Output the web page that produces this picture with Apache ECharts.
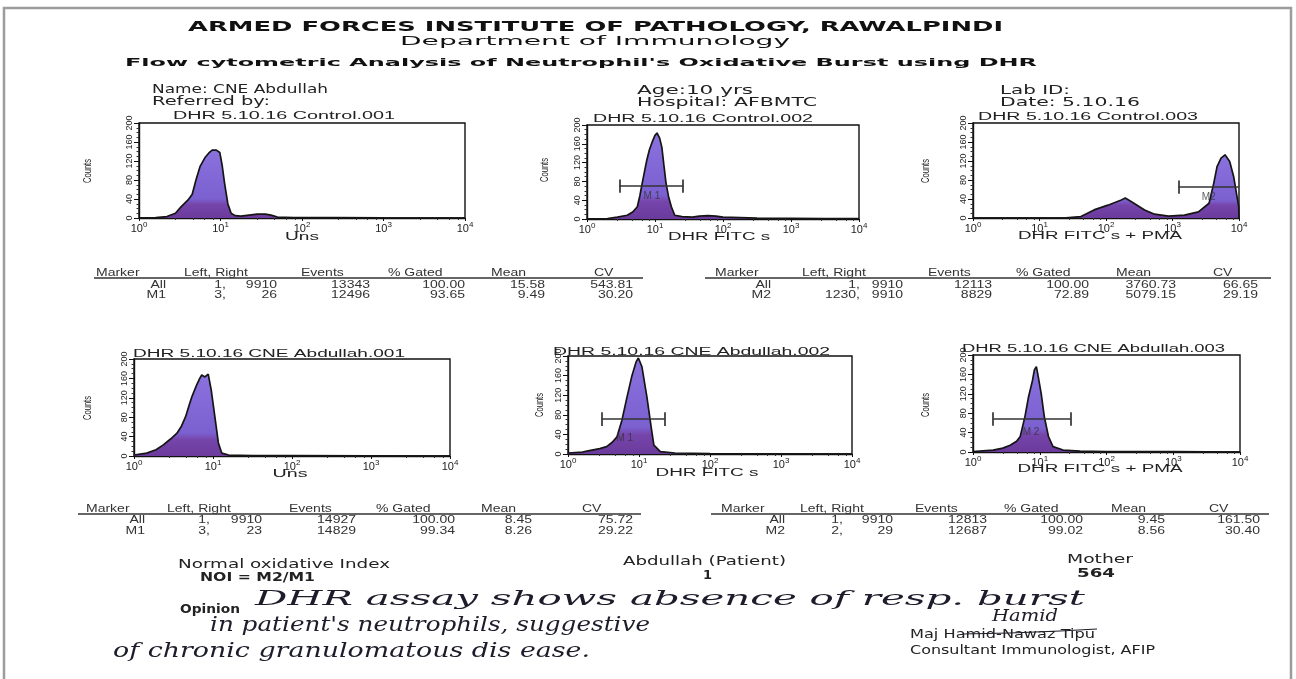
<!DOCTYPE html>
<html>
<head>
<meta charset="utf-8">
<script src="https://cdn.jsdelivr.net/npm/echarts@6/dist/echarts.min.js"></script>
<style>
html,body{margin:0;padding:0;background:#fff;}
#main{width:1296px;height:679px;}
</style>
</head>
<body>
<div id="main"></div>
<script>
// ---- histogram data (channel value, counts) ----
var ctl1X = [1, 1.6, 2.2, 2.8, 3.3, 4, 4.5, 5, 5.6, 6.5, 7.2, 7.9, 8.9, 9.8, 10.5, 11.2, 12.3, 13.5, 15.1, 17.8, 22.4, 28.2, 35.5, 41.7, 50, 79, 251, 1000, 10000];
var ctl1Y = [0.5, 1, 3, 10, 24, 38, 50, 80, 108, 128, 137, 143, 143, 138, 110, 74, 30, 10, 5, 4, 6, 8, 8, 6, 2, 1, 1, 0.3, 0];

var ctl2X = [1, 2, 2.8, 3.9, 4.7, 5.5, 6, 6.5, 7.1, 7.6, 8.3, 9.1, 10, 10.7, 11.7, 12.6, 13.5, 14.5, 15.8, 17.4, 19.5, 25, 35.5, 44.7, 60, 79, 100, 316, 1000, 3162, 10000];
var ctl2Y = [0.5, 1, 4, 8, 15, 26, 50, 77, 105, 126, 148, 164, 178, 183, 172, 153, 115, 77, 48, 26, 8, 5, 4, 6, 7, 6, 4, 2, 1.5, 1, 1];

var ctl3X = [1, 10, 25, 42, 66, 107, 170, 195, 263, 380, 537, 871, 1514, 2455, 3548, 4169, 4677, 5370, 6166, 7244, 8318, 9333, 9910, 10000];
var ctl3Y = [0, 0, 0.5, 3, 17, 27, 38, 42, 31, 17, 8, 4, 6, 13, 31, 73, 108, 126, 133, 119, 87, 45, 24, 0];

var pt1X = [1, 1.45, 1.9, 2.35, 2.9, 3.5, 4, 4.5, 5, 5.4, 6.2, 6.8, 7.2, 7.9, 8.7, 9.5, 10.7, 11.7, 12.9, 15.8, 32, 100, 1000, 10000];
var pt1Y = [2, 6, 13, 23, 35, 47, 62, 81, 105, 122, 146, 160, 167, 163, 169, 136, 74, 27, 6, 2, 1, 1, 0.5, 0];

var pt2X = [1, 1.6, 2, 2.8, 3.5, 4.2, 4.9, 5.75, 6.8, 7.9, 9.1, 9.8, 11, 12.9, 14.8, 16.2, 20, 32, 100, 1000, 10000];
var pt2Y = [2, 4, 7, 11, 15, 24, 35, 69, 117, 158, 188, 196, 178, 117, 56, 18, 5, 2, 1, 0.5, 0];

var pt3X = [1, 2, 2.8, 3.6, 4.5, 5.1, 6, 6.8, 7.8, 8.3, 8.9, 9.5, 10.5, 11.7, 13.5, 15.8, 22.4, 40, 100, 1000, 10000];
var pt3Y = [1, 4, 8, 14, 22, 32, 73, 114, 148, 169, 176, 155, 121, 73, 32, 11, 4, 2, 1, 1, 0];

// marker gates (left, right channel)
var ctlM1 = [3, 26];
var ctlM2 = [1230, 9910];
var ptM1 = [3, 23];
var ptM2 = [2, 29];

var histTitles = ['DHR 5.10.16 Control.001', 'DHR 5.10.16 Control.002', 'DHR 5.10.16 Control.003',
                  'DHR 5.10.16 CNE Abdullah.001', 'DHR 5.10.16 CNE Abdullah.002', 'DHR 5.10.16 CNE Abdullah.003'];
var histXNames = ['Uns', 'DHR FITC s', 'DHR FITC s + PMA', 'Uns', 'DHR FITC s', 'DHR FITC s + PMA'];
var yTicks = [0, 40, 80, 120, 160, 200];

// ---- statistics tables ----
var tableHead = ['Marker', 'Left, Right', 'Events', '% Gated', 'Mean', 'CV'];
var ctlTableA = [['All', '1,', '9910', '13343', '100.00', '15.58', '543.81'],
                 ['M1', '3,', '26', '12496', '93.65', '9.49', '30.20']];
var ctlTableB = [['All', '1,', '9910', '12113', '100.00', '3760.73', '66.65'],
                 ['M2', '1230,', '9910', '8829', '72.89', '5079.15', '29.19']];
var ptTableA = [['All', '1,', '9910', '14927', '100.00', '8.45', '75.72'],
                ['M1', '3,', '23', '14829', '99.34', '8.26', '29.22']];
var ptTableB = [['All', '1,', '9910', '12813', '100.00', '9.45', '161.50'],
                ['M2', '2,', '29', '12687', '99.02', '8.56', '30.40']];

var SANS = 'Liberation Sans, Arial, sans-serif';
var HEAD = 'DejaVu Sans, Verdana, sans-serif';
var HAND = 'DejaVu Serif, serif';

var chart = echarts.init(document.getElementById('main'));
var mctx = document.createElement('canvas').getContext('2d');

function fontStr(o) {
  return (o.style || 'normal') + ' ' + (o.weight || 'normal') + ' ' + (o.size || 11) + 'px ' + (o.family || SANS);
}
// text element; if o.w given, stretch horizontally to that width
function txt(str, x, y, o) {
  o = o || {};
  var font = fontStr(o);
  var sx = o.sx || 1;
  if (o.w) { mctx.font = font; sx = o.w / mctx.measureText(str).width; }
  var al = o.align || 'left';
  return {
    type: 'text', x: x, y: y, scaleX: sx, rotation: o.rot || 0, silent: true, z: 100,
    style: { text: str, font: font, fill: o.color || '#222',
             textAlign: al, align: al, textVerticalAlign: 'middle', verticalAlign: 'middle' }
  };
}
function pairs(xs, ys) {
  return xs.map(function (x, i) { return [x, ys[i]]; });
}

var grids = [
  { left: 139, top: 123, width: 326, height: 95 },
  { left: 587, top: 125, width: 272, height: 94 },
  { left: 973, top: 123, width: 266, height: 95 },
  { left: 134, top: 359, width: 316, height: 97 },
  { left: 568, top: 356, width: 284, height: 98 },
  { left: 973, top: 355, width: 267, height: 97 }
];
var hists = [pairs(ctl1X, ctl1Y), pairs(ctl2X, ctl2Y), pairs(ctl3X, ctl3Y),
             pairs(pt1X, pt1Y), pairs(pt2X, pt2Y), pairs(pt3X, pt3Y)];

var fill = new echarts.graphic.LinearGradient(0, 0, 0, 1, [
  { offset: 0, color: '#8a72de' }, { offset: 0.72, color: '#7b60d0' },
  { offset: 0.8, color: '#7645ab' }, { offset: 1, color: '#6b3a9c' }
]);

var xAxes = [], yAxes = [], series = [];
grids.forEach(function (g, i) {
  g.show = true; g.borderColor = '#111'; g.borderWidth = 1.4;
  xAxes.push({
    type: 'log', logBase: 10, min: 1, max: 10000, gridIndex: i,
    axisLine: { lineStyle: { color: '#111', width: 1.4 } },
    axisTick: { show: true, length: 3, lineStyle: { color: '#111' } },
    minorTick: { show: true, splitNumber: 5, length: 2, lineStyle: { color: '#333' } },
    splitLine: { show: false },
    axisLabel: {
      margin: 3, fontSize: 11, color: '#222', fontFamily: SANS,
      formatter: function (v) { return '10{s|' + Math.round(Math.log(v) / Math.LN10) + '}'; },
      rich: { s: { fontSize: 8, color: '#222', padding: [0, 0, 7, 0] } }
    }
  });
  yAxes.push({
    type: 'value', min: 0, max: 200, interval: 40, gridIndex: i,
    axisLine: { show: true, lineStyle: { color: '#111', width: 1.4 } },
    axisTick: { show: true, length: 5, lineStyle: { color: '#111' } },
    minorTick: { show: true, splitNumber: 4, length: 2.5, lineStyle: { color: '#333' } },
    splitLine: { show: false },
    axisLabel: { rotate: 90, margin: 5, fontSize: 9, color: '#222', fontFamily: SANS,
                 formatter: function (v) { return yTicks.indexOf(v) >= 0 ? String(v) : ''; } }
  });
  series.push({
    type: 'line', xAxisIndex: i, yAxisIndex: i, data: hists[i], symbol: 'none',
    lineStyle: { color: '#151515', width: 1.7 },
    areaStyle: { color: fill, opacity: 1 }, z: 2, silent: true
  });
});

// marker gate bars
function gate(idx, lr, level, label, labelPos) {
  var cap = 14;
  var d = [{ coords: [[lr[0], level], [lr[1], level]] }, { coords: [[lr[0], level - cap], [lr[0], level + cap]] }];
  if (lr[1] < 9900) d.push({ coords: [[lr[1], level - cap], [lr[1], level + cap]] });
  series.push({
    type: 'lines', coordinateSystem: 'cartesian2d', xAxisIndex: idx, yAxisIndex: idx,
    data: d, lineStyle: { color: '#333', width: 1.7, opacity: 1 }, z: 5, silent: true
  });
  series.push({
    type: 'scatter', xAxisIndex: idx, yAxisIndex: idx, data: [labelPos], symbolSize: 1,
    itemStyle: { color: 'rgba(0,0,0,0)' }, z: 6, silent: true,
    label: { show: true, position: 'inside', formatter: label, fontSize: 10, color: '#333', fontFamily: SANS }
  });
}
gate(1, ctlM1, 70, 'M 1', [9, 48]);
gate(2, ctlM2, 65, 'M2', [3500, 44]);
gate(4, ptM1, 71, 'M 1', [6.3, 33]);
gate(5, ptM2, 68, 'M 2', [7.4, 41]);

var gfx = [];
// page frame
gfx.push({ type: 'rect', shape: { x: 4, y: 8, width: 1287, height: 700 }, silent: true, z: 1,
           style: { fill: 'none', stroke: '#9c9c9c', lineWidth: 2.5 } });

// header
gfx.push(txt('ARMED FORCES INSTITUTE OF PATHOLOGY, RAWALPINDI', 188, 27, { size: 14, weight: 'bold', family: HEAD, w: 815, color: '#111' }));
gfx.push(txt('Department of Immunology', 400, 42, { size: 13, family: HEAD, w: 390, color: '#111' }));
gfx.push(txt("Flow cytometric Analysis of Neutrophil's Oxidative Burst using DHR", 125, 63, { size: 11, weight: 'bold', family: HEAD, w: 912, color: '#111' }));
gfx.push(txt('Name: CNE Abdullah', 152, 90, { size: 12, family: HEAD, w: 176 }));
gfx.push(txt('Referred by:', 152, 102, { size: 12, family: HEAD, w: 118 }));
gfx.push(txt('Age:10 yrs', 637, 91, { size: 12, family: HEAD, w: 116 }));
gfx.push(txt('Hospital: AFBMTC', 637, 103, { size: 12, family: HEAD, w: 180 }));
gfx.push(txt('Lab ID:', 1000, 91, { size: 12, family: HEAD, w: 70 }));
gfx.push(txt('Date: 5.10.16', 1000, 103, { size: 12, family: HEAD, w: 140 }));

// histogram titles, counts labels, x names
var titleSpan = [[173, 395, 116], [593, 813, 119], [978, 1198, 117], [133, 405, 354], [553, 830, 352], [962, 1225, 349]];
var countsPos = [[88, 171], [545, 170], [926, 171], [88, 408], [540, 405], [926, 405]];
var xNamePos = [[302, 237, 34], [719, 237, 102], [1100, 236, 164], [290, 474, 35], [707, 473, 103], [1100, 469, 165]];
histTitles.forEach(function (t, i) {
  var s = titleSpan[i];
  gfx.push(txt(t, s[0], s[2], { size: 10, w: s[1] - s[0] }));
  gfx.push(txt('Counts', countsPos[i][0], countsPos[i][1], { size: 10, rot: Math.PI / 2, align: 'center', w: 24 }));
  gfx.push(txt(histXNames[i], xNamePos[i][0], xNamePos[i][1], { size: 10, align: 'center', w: xNamePos[i][2] }));
});

// tables
function table(rows, headX, rowR, commaR, yH, yLine, yRows, lineX) {
  tableHead.forEach(function (h, k) {
    gfx.push(txt(h, headX[k], yH, { size: 10, sx: 1.4, color: '#333' }));
  });
  gfx.push({ type: 'line', shape: { x1: lineX[0], y1: yLine, x2: lineX[1], y2: yLine }, silent: true, z: 100,
             style: { stroke: '#333', lineWidth: 1.4 } });
  rows.forEach(function (r, j) {
    var y = yRows[j];
    gfx.push(txt(r[0], rowR[0], y, { size: 10, sx: 1.4, align: 'right', color: '#333' }));
    gfx.push(txt(r[1], commaR, y, { size: 10, sx: 1.4, align: 'right', color: '#333' }));
    for (var k = 2; k < r.length; k++) {
      gfx.push(txt(r[k], rowR[k - 1], y, { size: 10, sx: 1.4, align: 'right', color: '#333' }));
    }
  });
}
table(ctlTableA, [96, 184, 301, 388, 491, 594], [166, 277, 370, 465, 545, 633], 226, 273, 278, [285, 295], [94, 643]);
table(ctlTableB, [715, 802, 928, 1016, 1116, 1213], [771, 903, 992, 1089, 1176, 1258], 860, 273, 278, [285, 295], [705, 1271]);
table(ptTableA, [86, 167, 289, 376, 481, 582], [145, 262, 356, 455, 532, 633], 210, 509, 514, [520, 531], [78, 641]);
table(ptTableB, [721, 800, 915, 1004, 1111, 1209], [785, 893, 987, 1083, 1165, 1260], 843, 509, 514, [520, 531], [711, 1269]);

// NOI summary
gfx.push(txt('Normal oxidative Index', 178, 565, { size: 13, family: HEAD, w: 212 }));
gfx.push(txt('NOI = M2/M1', 200, 578, { size: 13, family: HEAD, weight: 'bold', w: 115 }));
gfx.push(txt('Abdullah (Patient)', 623, 562, { size: 13, family: HEAD, w: 163 }));
gfx.push(txt('1', 703, 576, { size: 13, family: HEAD, weight: 'bold' }));
gfx.push(txt('Mother', 1067, 560, { size: 13, family: HEAD, w: 66 }));
gfx.push(txt('564', 1077, 574, { size: 13, family: HEAD, weight: 'bold', w: 38 }));

// opinion (handwritten)
gfx.push(txt('Opinion', 180, 610, { size: 13, family: HEAD, weight: 'bold', w: 60 }));
gfx.push(txt('DHR assay shows absence of resp. burst', 255, 600, { size: 21, family: HAND, style: 'italic', w: 830, color: '#1c1c2a' }));
gfx.push(txt("in patient's neutrophils, suggestive", 210, 626, { size: 21, family: HAND, style: 'italic', w: 440, color: '#1c1c2a' }));
gfx.push(txt('of chronic granulomatous dis ease.', 113, 652, { size: 21, family: HAND, style: 'italic', w: 477, color: '#1c1c2a' }));

// signature
gfx.push(txt('Hamid', 992, 617, { size: 17, family: HAND, style: 'italic', w: 66, color: '#1c1c2a' }));
gfx.push({ type: 'polyline', shape: { points: [[962, 634], [1010, 633], [1060, 631], [1097, 629]] }, silent: true, z: 100,
           style: { stroke: '#1c1c2a', lineWidth: 1.2, fill: 'none' } });
gfx.push(txt('Maj Hamid-Nawaz Tipu', 910, 635, { size: 12, family: HEAD, w: 185 }));
gfx.push(txt('Consultant Immunologist, AFIP', 910, 651, { size: 12, family: HEAD, w: 245 }));

chart.setOption({
  animation: false,
  backgroundColor: '#fff',
  grid: grids,
  xAxis: xAxes,
  yAxis: yAxes,
  series: series,
  graphic: gfx
});
</script>
</body>
</html>
